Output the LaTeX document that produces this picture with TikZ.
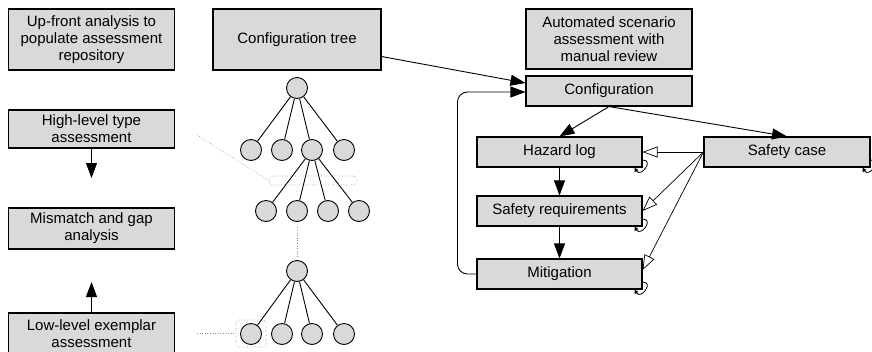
\documentclass[tikz,border=0pt]{standalone}
\usepackage{fontspec}
\setmainfont{Liberation Sans}
\usetikzlibrary{arrows.meta}
\definecolor{boxgray}{RGB}{217,217,217}
\definecolor{dotgray}{RGB}{140,140,140}
\tikzset{
  box/.style={draw, fill=boxgray, line width=1.1pt, inner sep=0pt, align=center,
    minimum width=166pt, font=\fontsize{15}{17}\selectfont},
  leaf/.style={circle, draw, fill=boxgray, line width=0.9pt, minimum size=21pt, inner sep=0pt},
  edge/.style={line width=0.9pt},
  arr/.style={line width=0.9pt, -{Triangle[length=15pt,width=11pt]}},
  tri/.style={line width=0.7pt, -{Triangle[open,length=15pt,width=11pt]}},
  selfloop/.style={line width=0.8pt, -{Triangle[length=4pt,width=4pt]}},
  dotline/.style={dotted, draw=dotgray, line width=0.6pt},
  selbox/.style={dotline, rounded corners=4pt, inner sep=0pt}
}
\begin{document}
\begin{tikzpicture}[x=1pt,y=-1pt]
  \useasboundingbox (0,0) rectangle (872,351);
  % left column
  \node[box, minimum height=61pt] (up)  at (91.5,39.5) {Up-front analysis to\\populate assessment\\repository};
  \node[box, minimum height=38pt] (hl)  at (91.5,129)  {High-level type\\assessment};
  \node[box, minimum height=41pt] (mm)  at (91.5,228.5) {Mismatch and gap\\analysis};
  \node[box, minimum height=42pt] (ll)  at (91.5,334)  {Low-level exemplar\\assessment};
  \coordinate (hlend) at (91.5,178);
  \coordinate (llend) at (91.5,282);
  \draw[arr] (hl.south) -- (hlend);
  \draw[arr] (ll.north) -- (llend);

  % configuration trees
  \node[box, minimum width=168pt, minimum height=61pt] (ct) at (297,39.5) {Configuration tree};
  \node[leaf] (r1) at (297,88) {};
  \foreach \x [count=\i] in {251,282,312,344}
    \node[leaf] (c\i) at (\x,150) {};
  \foreach \x [count=\i] in {266,297,328,359}
    \node[leaf] (g\i) at (\x,211) {};
  \node[leaf] (r2) at (297,271) {};
  \foreach \x [count=\i] in {251,282,312,344}
    \node[leaf] (d\i) at (\x,334) {};
  \foreach \i in {1,...,4} {
    \draw[edge] (r1) -- (c\i);
    \draw[edge] (c3) -- (g\i);
    \draw[edge] (r2) -- (d\i);
  }
  \node[selbox, minimum width=88pt, minimum height=9pt] (sel1) at (313,180.5) {};
  \node[selbox, rounded corners=3pt, minimum width=30pt, minimum height=27pt] (sel2) at (251,333.5) {};
  \coordinate (hlpt) at (197,135);
  \coordinate (llpt) at (197,333.5);
  \draw[dotline] (hlpt) -- (sel1.west);
  \draw[dotline] (llpt) -- (sel2.west);
  \draw[dotline, shorten <=5.5pt, shorten >=3.5pt] (g2) -- (r2);

  % scenario assessment
  \node[box, minimum height=60pt] (au)  at (609,39) {Automated scenario\\assessment with\\manual review};
  \node[box, minimum height=30pt] (cfg) at (609,91)  {Configuration};
  \node[box, minimum width=165pt, minimum height=30pt] (hz) at (559.5,152) {Hazard log};
  \node[box, minimum height=30pt] (sc)  at (787,152) {Safety case};
  \node[box, minimum width=165pt, minimum height=30pt] (sr) at (559.5,211) {Safety requirements};
  \node[box, minimum width=165pt, minimum height=30pt] (mt) at (559.5,274) {Mitigation};

  \draw[arr] ([yshift=-17pt]ct.east) -- ([yshift=8pt]cfg.west);
  \draw[arr, rounded corners=10pt] (mt.west) -- ++(-19pt,0pt) |- ([yshift=-1pt]cfg.west);
  \draw[arr] (cfg.south) -- (hz.north);
  \draw[arr] (cfg.south) -- (sc.north);
  \draw[arr] (hz.south) -- (sr.north);
  \draw[arr] (sr.south) -- (mt.north);
  \draw[tri] (sc.west) -- (hz.east);
  \draw[tri] (sc.west) -- (sr.east);
  \draw[tri] (sc.west) -- ([yshift=4pt]mt.east);
  \foreach \b in {hz,sr,mt,sc}
    \draw[selfloop] ([yshift=-8pt]\b.east) to[out=0,in=-60,looseness=2.8] ([xshift=-8pt]\b.south east);
\end{tikzpicture}
\end{document}
